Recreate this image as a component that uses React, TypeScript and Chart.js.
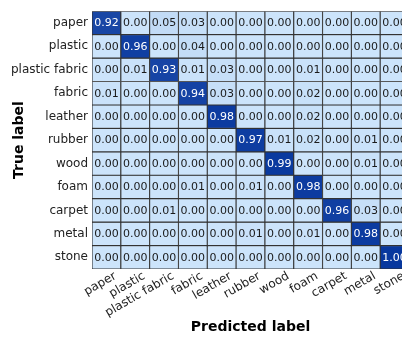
import React, { useEffect, useRef } from "react";
import { Chart, registerables } from "chart.js";

Chart.register(...registerables);

const classLabels = [
  "paper", "plastic", "plastic fabric", "fabric", "leather", "rubber",
  "wood", "foam", "carpet", "metal", "stone",
];

const paperRow = [0.92, 0.0, 0.05, 0.03, 0.0, 0.0, 0.0, 0.0, 0.0, 0.0, 0.0];
const plasticRow = [0.0, 0.96, 0.0, 0.04, 0.0, 0.0, 0.0, 0.0, 0.0, 0.0, 0.0];
const plasticFabricRow = [0.0, 0.01, 0.93, 0.01, 0.03, 0.0, 0.0, 0.01, 0.0, 0.0, 0.0];
const fabricRow = [0.01, 0.0, 0.0, 0.94, 0.03, 0.0, 0.0, 0.02, 0.0, 0.0, 0.0];
const leatherRow = [0.0, 0.0, 0.0, 0.0, 0.98, 0.0, 0.0, 0.02, 0.0, 0.0, 0.0];
const rubberRow = [0.0, 0.0, 0.0, 0.0, 0.0, 0.97, 0.01, 0.02, 0.0, 0.01, 0.0];
const woodRow = [0.0, 0.0, 0.0, 0.0, 0.0, 0.0, 0.99, 0.0, 0.0, 0.01, 0.0];
const foamRow = [0.0, 0.0, 0.0, 0.01, 0.0, 0.01, 0.0, 0.98, 0.0, 0.0, 0.0];
const carpetRow = [0.0, 0.0, 0.01, 0.0, 0.0, 0.0, 0.0, 0.0, 0.96, 0.03, 0.0];
const metalRow = [0.0, 0.0, 0.0, 0.0, 0.0, 0.01, 0.0, 0.01, 0.0, 0.98, 0.0];
const stoneRow = [0.0, 0.0, 0.0, 0.0, 0.0, 0.0, 0.0, 0.0, 0.0, 0.0, 1.0];

const rows = [
  paperRow, plasticRow, plasticFabricRow, fabricRow, leatherRow, rubberRow,
  woodRow, foamRow, carpetRow, metalRow, stoneRow,
];

const xTitle = "Predicted label";
const yTitle = "True label";

const LOW = [204, 228, 251];
const HIGH = [8, 56, 158];

function cellColor(v: number): string {
  const t = Math.max(0, Math.min(1, v));
  const c = LOW.map((l, k) => Math.round(l + (HIGH[k] - l) * t));
  return `rgb(${c[0]},${c[1]},${c[2]})`;
}

const FONT = "'DejaVu Sans', sans-serif";

const cellText = {
  id: "cellText",
  afterDatasetsDraw(chart: any) {
    const ctx = chart.ctx;
    ctx.save();
    ctx.font = `11px ${FONT}`;
    ctx.textAlign = "center";
    ctx.textBaseline = "middle";
    chart.data.datasets.forEach((ds: any, i: number) => {
      const meta = chart.getDatasetMeta(i);
      meta.data.forEach((bar: any, j: number) => {
        const { x, y, base } = bar.getProps(["x", "y", "base"], true);
        const v = rows[i][j];
        ctx.fillStyle = v > 0.5 ? "#ffffff" : "#1a1a1a";
        ctx.fillText(v.toFixed(2), x, (y + base) / 2 + 0.5);
      });
    });
    ctx.restore();
  },
};

export default function App() {
  const ref = useRef<HTMLCanvasElement | null>(null);

  useEffect(() => {
    if (!ref.current) return;
    const datasets = rows.map((row, i) => ({
      label: classLabels[i],
      data: row.map(() => [i - 0.5, i + 0.5]),
      backgroundColor: row.map((v) => cellColor(v)),
      borderColor: "#333333",
      borderWidth: 0.9,
      borderSkipped: false,
      barPercentage: 1,
      categoryPercentage: 1,
      grouped: false,
    }));
    const chart = new Chart(ref.current, {
      type: "bar",
      data: { labels: classLabels, datasets: datasets as any },
      plugins: [cellText],
      options: {
        animation: false,
        responsive: false,
        devicePixelRatio: 1,
        events: [],
        layout: { padding: { left: 0, top: 4, right: 21, bottom: 0 } },
        font: { family: FONT },
        plugins: {
          legend: { display: false },
          tooltip: { enabled: false },
        },
        scales: {
          x: {
            type: "category",
            offset: true,
            grid: { display: false, drawTicks: false },
            border: { display: false },
            ticks: {
              autoSkip: false,
              minRotation: 30,
              maxRotation: 30,
              padding: 0,
              labelOffset: 9,
              color: "#222222",
              font: { family: FONT, size: 12 },
            },
            title: {
              display: true,
              text: xTitle,
              color: "#000000",
              font: { family: FONT, size: 14, weight: "bold" },
              padding: { top: 0, bottom: 3 },
            },
            afterFit: (s: any) => {
              s.height = 70;
            },
          },
          y: {
            type: "linear",
            reverse: true,
            min: -0.5,
            max: 10.5,
            grid: { display: false, drawTicks: false },
            border: { display: false },
            afterBuildTicks: (s: any) => {
              s.ticks = classLabels.map((_, i) => ({ value: i }));
            },
            ticks: {
              padding: 4,
              color: "#222222",
              font: { family: FONT, size: 12 },
              callback: (v: any) => classLabels[Math.round(Number(v))] ?? "",
            },
            title: {
              display: true,
              text: yTitle,
              color: "#000000",
              font: { family: FONT, size: 14, weight: "bold" },
              padding: { top: 11, bottom: 0 },
            },
            afterFit: (s: any) => {
              s.width = 92;
            },
          },
        },
      } as any,
    });
    return () => chart.destroy();
  }, []);

  return (
    <div
      style={{
        position: "fixed",
        left: 0,
        top: 0,
        width: 402,
        height: 339,
        overflow: "hidden",
        background: "#ffffff",
      }}
    >
      <canvas ref={ref} width={430} height={339} style={{ width: 430, height: 339, display: "block" }} />
    </div>
  );
}
